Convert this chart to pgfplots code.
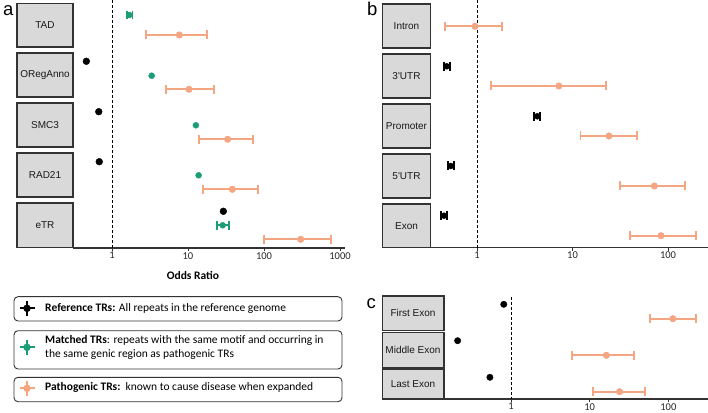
\documentclass[border=0pt]{standalone}
\usepackage{fontspec}
\setmainfont{Carlito}
\newfontfamily\arial{Liberation Sans}
\usepackage{pgfplots}
\pgfplotsset{compat=1.18}

\definecolor{patho}{HTML}{F4A582}
\definecolor{matched}{HTML}{1B9E77}
\definecolor{stripfill}{HTML}{D9D9D9}
\definecolor{axisgrey}{HTML}{333333}

\pgfplotsset{
  ci/.style={line width=2pt, mark=|, mark size=4.5pt,
    mark options={solid, line width=1.8pt}, unbounded coords=jump},
  vline/.style={black, line width=0.9pt, dash pattern=on 3pt off 2pt},
}

% strip label box: x0, y0, x1, y1 (pixels from top), centre x, centre y, text
\newcommand{\strip}[7]{%
  \draw[fill=stripfill, draw=axisgrey, line width=1.5pt] (#1,-#2) rectangle (#3,-#4);
  \node[font=\arial\fontsize{10}{12}\selectfont, text=black!90] at (#5,-#6) {#7};}

\begin{document}
\begin{tikzpicture}
\useasboundingbox (0,0) rectangle (708pt,412pt);

% ---- frame for strips, legend and letters (pixel units) ----
\begin{axis}[at={(0,0)}, anchor=south west, width=708pt, height=412pt,
  scale only axis, hide axis, xmin=0, xmax=708, ymin=-412, ymax=0, clip=false]
\strip{17}{3.3}{73}{47}{45}{25}{TAD}
\strip{17}{53}{73}{97}{45}{75}{ORegAnno}
\strip{17}{103}{73}{147}{45}{125}{SMC3}
\strip{17}{153}{73}{197}{45}{175}{RAD21}
\strip{17}{203}{73}{247.5}{45}{225}{eTR}

\strip{382.3}{4}{430.7}{48}{406.5}{26}{Intron}
\strip{382.3}{54}{430.7}{98}{406.5}{76}{3'UTR}
\strip{382.3}{104}{430.7}{148}{406.5}{126}{Promoter}
\strip{382.3}{154}{430.7}{198}{406.5}{176}{5'UTR}
\strip{382.3}{204}{430.7}{247.5}{406.5}{226}{Exon}

\strip{382.3}{296}{444}{330.7}{413}{313.3}{First Exon}
\strip{382.3}{332.7}{444}{368}{413}{350.3}{Middle Exon}
\strip{382.3}{369.3}{444}{399}{413}{384.2}{Last Exon}

\node[anchor=base west, font=\arial\fontsize{18.5}{20}\selectfont] at (-0.5,-16) {a};
\node[anchor=base west, font=\arial\fontsize{18.5}{20}\selectfont] at (363.5,-16) {b};
\node[anchor=base west, font=\arial\fontsize{18.5}{20}\selectfont] at (363,-308.3) {c};

\node[font=\bfseries\fontsize{11.5}{13}\selectfont] at (193,-275) {Odds Ratio};

% legend boxes
\draw[rounded corners=4pt, line width=0.9pt, draw=axisgrey] (14,-296.7) rectangle (342,-321);
\draw[rounded corners=4pt, line width=0.9pt, draw=axisgrey] (14,-330.7) rectangle (342,-369);
\draw[rounded corners=4pt, line width=0.9pt, draw=axisgrey] (14,-377.3) rectangle (342,-401.7);

\node[anchor=base west, font=\fontsize{11.5}{13}\selectfont] at (41.7,-311.7)
  {\textbf{Reference TRs:} All repeats in the reference genome};
\node[anchor=base west, font=\fontsize{11.5}{13}\selectfont] at (41.7,-343)
  {\textbf{Matched TRs}: repeats with the same motif and occurring in};
\node[anchor=base west, font=\fontsize{11.5}{13}\selectfont] at (41.7,-357.3)
  {the same genic region as pathogenic TRs};
\node[anchor=base west, font=\fontsize{11.5}{13}\selectfont] at (41.7,-390.7)
  {\textbf{Pathogenic TRs:}\ \ known to cause disease when expanded};

% legend glyphs
\addplot[black, line width=2pt, unbounded coords=jump] coordinates
  {(19.5,-308.3) (34.5,-308.3) (nan,nan) (27,-300.8) (27,-315.8)};
\addplot[black, only marks, mark=*, mark size=3.5pt] coordinates {(27,-308.3)};
\addplot[matched, line width=2pt, unbounded coords=jump] coordinates
  {(19.5,-347.3) (34.5,-347.3) (nan,nan) (27,-339.8) (27,-354.8)};
\addplot[matched, only marks, mark=*, mark size=3.5pt] coordinates {(27,-347.3)};
\addplot[patho, line width=2pt, unbounded coords=jump] coordinates
  {(19.5,-388.3) (34.5,-388.3) (nan,nan) (27,-380.8) (27,-395.8)};
\addplot[patho, only marks, mark=*, mark size=3.5pt] coordinates {(27,-388.3)};
\end{axis}

% ---- panel a ----
\begin{axis}[xmode=log, scale only axis, clip=false, anchor=south west,
  axis x line=bottom, axis y line=none,
  x axis line style={-, line width=1.3pt, draw=axisgrey},
  xtick style={draw=axisgrey, line width=0.8pt},
  major tick length=3pt, tick align=outside, xminorticks=false, ytick=\empty,
  xticklabel style={font=\fontsize{10.5}{12}\selectfont, text=black!85, inner sep=1pt},
  at={(73pt,164pt)}, width=272pt, height=245pt,
  xmin=0.307, xmax=1164, ymin=-248, ymax=-3,
  xtick={1,10,100,1000}, xticklabels={1,10,100,1000}]
\addplot[vline] coordinates {(1,0) (1,-248)};
% reference
\addplot[black, only marks, mark=*, mark size=3.4pt] coordinates
  {(0.46,-61.3) (0.67,-111.7) (0.68,-161.7) (29.2,-211.3)};
% matched
\addplot[matched, ci, mark size=4.3pt] coordinates
  {(1.56,-15) (1.86,-15) (nan,nan) (24.3,-225.3) (34.3,-225.3)};
\addplot[matched, only marks, mark=*, mark size=3pt] coordinates
  {(1.69,-15) (3.33,-75.7) (12.7,-125.3) (13.8,-175.3) (28.6,-225.3)};
% pathogenic
\addplot[patho, ci] coordinates
  {(2.83,-35) (17.8,-35) (nan,nan) (5.13,-89.3) (22,-89.3) (nan,nan)
   (13.8,-139.3) (72,-139.3) (nan,nan) (15.9,-189.3) (82.6,-189.3) (nan,nan)
   (101,-239.3) (760,-239.3)};
\addplot[patho, only marks, mark=*, mark size=3.3pt] coordinates
  {(7.69,-35) (10.3,-89.3) (33.3,-139.3) (38.3,-189.3) (304,-239.3)};
\end{axis}

% ---- panel b ----
\begin{axis}[xmode=log, scale only axis, clip=false, anchor=south west,
  axis x line=bottom, axis y line=none,
  x axis line style={-, line width=1.3pt, draw=axisgrey},
  xtick style={draw=axisgrey, line width=0.8pt},
  major tick length=3pt, tick align=outside, xminorticks=false, ytick=\empty,
  xticklabel style={font=\fontsize{10.5}{12}\selectfont, text=black!85, inner sep=1pt},
  at={(430.7pt,164.3pt)}, width=277.3pt, height=244.7pt,
  xmin=0.327, xmax=262.4, ymin=-247.7, ymax=-3,
  xtick={1,10,100}, xticklabels={1,10,100}]
\addplot[vline] coordinates {(1,0) (1,-247.7)};
% reference
\addplot[black, ci] coordinates
  {(0.447,-66.3) (0.516,-66.3) (nan,nan) (3.98,-116.3) (4.6,-116.3) (nan,nan)
   (0.493,-166) (0.57,-166) (nan,nan) (0.419,-215.7) (0.484,-215.7)};
\addplot[black, only marks, mark=*, mark size=3pt] coordinates
  {(0.48,-66.3) (4.28,-116.3) (0.53,-166) (0.45,-215.7)};
% pathogenic
\addplot[patho, ci] coordinates
  {(0.46,-26.3) (1.84,-26.3) (nan,nan) (1.40,-86) (22.6,-86) (nan,nan)
   (12.1,-136) (47,-136) (nan,nan) (31.2,-186) (152,-186) (nan,nan)
   (40.3,-235.7) (195,-235.7)};
\addplot[patho, only marks, mark=*, mark size=3.3pt] coordinates
  {(0.95,-26.3) (7.2,-86) (24.1,-136) (72,-186) (84.5,-235.7)};
\end{axis}

% ---- panel c ----
\begin{axis}[xmode=log, scale only axis, clip=false, anchor=south west,
  axis x line=bottom, axis y line=none,
  x axis line style={-, line width=1.3pt, draw=axisgrey},
  xtick style={draw=axisgrey, line width=0.8pt},
  major tick length=3pt, tick align=outside, xminorticks=false, ytick=\empty,
  xticklabel style={font=\fontsize{10.5}{12}\selectfont, text=black!85, inner sep=1pt},
  at={(444pt,13pt)}, width=264pt, height=103pt,
  xmin=0.141, xmax=318.6, ymin=-399, ymax=-296,
  xtick={1,10,100}, xticklabels={1,10,100}]
\addplot[vline] coordinates {(1,-296.7) (1,-399)};
% reference
\addplot[black, only marks, mark=*, mark size=3.2pt] coordinates
  {(0.81,-304.3) (0.21,-340.7) (0.54,-377.3)};
% pathogenic
\addplot[patho, ci] coordinates
  {(57.8,-318.7) (226,-318.7) (nan,nan) (5.96,-355.3) (36.9,-355.3) (nan,nan)
   (11,-391.7) (50,-391.7)};
\addplot[patho, only marks, mark=*, mark size=3.3pt] coordinates
  {(114,-318.7) (16.3,-355.3) (24,-391.7)};
\end{axis}
\end{tikzpicture}
\end{document}
